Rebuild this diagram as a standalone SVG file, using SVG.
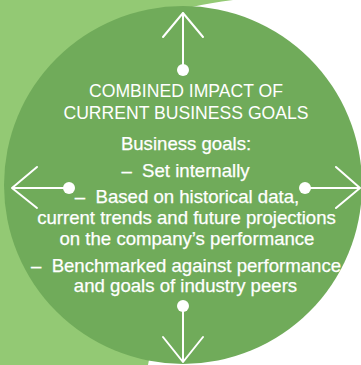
<svg xmlns="http://www.w3.org/2000/svg" width="361" height="365" viewBox="0 0 361 365">
<style>
.bg{fill:#93c974}
.main{fill:#70ab5a}
.t{fill:#ffffff;font-family:"Liberation Sans",Arial,Helvetica,sans-serif;text-anchor:middle}
.title{font-size:17.6px}
.body{font-size:18.6px;stroke:#ffffff;stroke-width:0.25}
.arr{fill:none;stroke:#ffffff;stroke-width:2;stroke-linecap:round;stroke-linejoin:round}
.dot{fill:#ffffff}
</style>
<rect width="361" height="365" fill="#ffffff"/>
<path id="backdrop" class="bg" d="M0,0 H233 Q210,3 192,7 L183,185 L148,365 H0 Z"/>
<g id="node-combined-impact">
<circle class="main" cx="183" cy="185" r="179"/>
<text class="t title" x="186" y="97">COMBINED IMPACT OF</text>
<text class="t title" x="186" y="119">CURRENT BUSINESS GOALS</text>
<text class="t body" x="186" y="150">Business goals:</text>
<text class="t body" x="185.5" y="177">–&#160; Set internally</text>
<text class="t body" x="187" y="203">–&#160; Based on historical data,</text>
<text class="t body" x="186.5" y="224">current trends and future projections</text>
<text class="t body" x="187" y="245">on the company’s performance</text>
<text class="t body" x="186" y="272">–&#160; Benchmarked against performance</text>
<text class="t body" x="185.5" y="292">and goals of industry peers</text>
</g>
<g id="connectors">
<g id="arrow-up">
<path class="arr" d="M183,70 V13 M163,37 L183,13 L203,37"/>
<circle class="dot" cx="183" cy="70" r="6"/>
</g>
<g id="arrow-down">
<path class="arr" d="M183,306 V362 M163,337 L183,362 L203,337"/>
<circle class="dot" cx="183" cy="306" r="6"/>
</g>
<g id="arrow-left">
<path class="arr" d="M69,188 H12 M37,167 L12,188 L37,208"/>
<circle class="dot" cx="69" cy="188" r="6"/>
</g>
<g id="arrow-right">
<path class="arr" d="M305,188 H360 M336,167 L360,188 L336,208"/>
<circle class="dot" cx="305" cy="188" r="6"/>
</g>
</g>
</svg>
